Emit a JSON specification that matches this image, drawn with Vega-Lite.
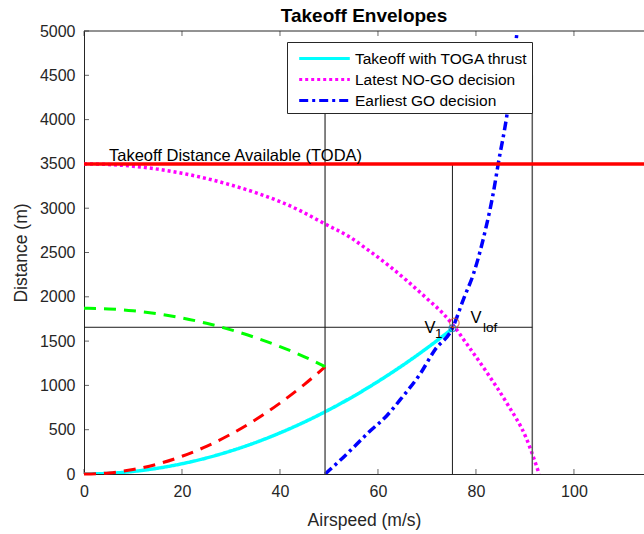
{
  "$schema": "https://vega.github.io/schema/vega-lite/v6.json",
  "autosize": "none",
  "width": 560,
  "height": 443,
  "padding": {"left": 84, "top": 31, "right": 0, "bottom": 60},
  "background": "white",
  "title": {
    "text": "Takeoff Envelopes",
    "font": "Liberation Sans",
    "fontSize": 19,
    "fontWeight": "bold",
    "color": "black",
    "anchor": "middle",
    "baseline": "alphabetic",
    "offset": -18
  },
  "datasets": {
    "speedTicks": [{"v": 0}, {"v": 20}, {"v": 40}, {"v": 60}, {"v": 80}, {"v": 100}],
    "distanceTicks": [{"d": 0}, {"d": 500}, {"d": 1000}, {"d": 1500}, {"d": 2000}, {"d": 2500}, {"d": 3000}, {"d": 3500}, {"d": 4000}, {"d": 4500}, {"d": 5000}]
  },
  "config": {
    "view": {"stroke": null},
    "axis": {
      "domainColor": "#262626",
      "tickColor": "#262626",
      "labelColor": "#262626",
      "titleColor": "#262626",
      "labelFont": "Liberation Sans",
      "titleFont": "Liberation Sans",
      "labelFontSize": 16,
      "titleFontSize": 17.5,
      "titleFontWeight": "normal",
      "grid": false,
      "domainWidth": 1,
      "ticks": false
    }
  },
  "layer": [
    {
      "description": "takeoff envelopes",
      "data": {"values": [
        {"series": "Takeoff with TOGA thrust", "v": 0, "d": 0},
        {"series": "Takeoff with TOGA thrust", "v": 5, "d": 7},
        {"series": "Takeoff with TOGA thrust", "v": 10, "d": 29},
        {"series": "Takeoff with TOGA thrust", "v": 15, "d": 65},
        {"series": "Takeoff with TOGA thrust", "v": 20, "d": 116},
        {"series": "Takeoff with TOGA thrust", "v": 25, "d": 181},
        {"series": "Takeoff with TOGA thrust", "v": 30, "d": 261},
        {"series": "Takeoff with TOGA thrust", "v": 35, "d": 355},
        {"series": "Takeoff with TOGA thrust", "v": 40, "d": 464},
        {"series": "Takeoff with TOGA thrust", "v": 45, "d": 587},
        {"series": "Takeoff with TOGA thrust", "v": 50, "d": 725},
        {"series": "Takeoff with TOGA thrust", "v": 55, "d": 877},
        {"series": "Takeoff with TOGA thrust", "v": 60, "d": 1044},
        {"series": "Takeoff with TOGA thrust", "v": 65, "d": 1225},
        {"series": "Takeoff with TOGA thrust", "v": 70, "d": 1421},
        {"series": "Takeoff with TOGA thrust", "v": 75.2, "d": 1640},
        {"series": "Latest NO-GO decision", "v": 0, "d": 3500},
        {"series": "Latest NO-GO decision", "v": 5, "d": 3493},
        {"series": "Latest NO-GO decision", "v": 10, "d": 3474},
        {"series": "Latest NO-GO decision", "v": 15, "d": 3441},
        {"series": "Latest NO-GO decision", "v": 20, "d": 3395},
        {"series": "Latest NO-GO decision", "v": 25, "d": 3335},
        {"series": "Latest NO-GO decision", "v": 30, "d": 3262},
        {"series": "Latest NO-GO decision", "v": 35, "d": 3176},
        {"series": "Latest NO-GO decision", "v": 40, "d": 3075},
        {"series": "Latest NO-GO decision", "v": 44.1, "d": 2972},
        {"series": "Latest NO-GO decision", "v": 49.2, "d": 2822},
        {"series": "Latest NO-GO decision", "v": 54.3, "d": 2672},
        {"series": "Latest NO-GO decision", "v": 57.7, "d": 2540},
        {"series": "Latest NO-GO decision", "v": 61.8, "d": 2370},
        {"series": "Latest NO-GO decision", "v": 65.9, "d": 2182},
        {"series": "Latest NO-GO decision", "v": 70, "d": 1980},
        {"series": "Latest NO-GO decision", "v": 73.3, "d": 1810},
        {"series": "Latest NO-GO decision", "v": 75.2, "d": 1690},
        {"series": "Latest NO-GO decision", "v": 78.1, "d": 1470},
        {"series": "Latest NO-GO decision", "v": 82.2, "d": 1148},
        {"series": "Latest NO-GO decision", "v": 86.3, "d": 800},
        {"series": "Latest NO-GO decision", "v": 90.3, "d": 400},
        {"series": "Latest NO-GO decision", "v": 92.9, "d": 0},
        {"series": "Earliest GO decision", "v": 49.2, "d": 0},
        {"series": "Earliest GO decision", "v": 52, "d": 140},
        {"series": "Earliest GO decision", "v": 55, "d": 300},
        {"series": "Earliest GO decision", "v": 58, "d": 465},
        {"series": "Earliest GO decision", "v": 61.8, "d": 658},
        {"series": "Earliest GO decision", "v": 65, "d": 870},
        {"series": "Earliest GO decision", "v": 68.6, "d": 1129},
        {"series": "Earliest GO decision", "v": 71.6, "d": 1400},
        {"series": "Earliest GO decision", "v": 75.2, "d": 1645},
        {"series": "Earliest GO decision", "v": 77.5, "d": 1980},
        {"series": "Earliest GO decision", "v": 79.5, "d": 2260},
        {"series": "Earliest GO decision", "v": 82, "d": 2770},
        {"series": "Earliest GO decision", "v": 83.5, "d": 3160},
        {"series": "Earliest GO decision", "v": 84.6, "d": 3518},
        {"series": "Earliest GO decision", "v": 86.3, "d": 4044},
        {"series": "Earliest GO decision", "v": 87.4, "d": 4500},
        {"series": "Earliest GO decision", "v": 88.4, "d": 5000}
      ]},
      "mark": {"type": "line", "strokeWidth": 3.5, "interpolate": "monotone", "clip": true},
      "encoding": {
        "x": {"field": "v", "type": "quantitative", "scale": {"domain": [0, 114.3], "nice": false, "zero": false},
              "axis": {"title": "Airspeed (m/s)", "values": [0, 20, 40, 60, 80, 100], "labelFlush": false, "labelPadding": 9, "titlePadding": 12}},
        "y": {"field": "d", "type": "quantitative", "scale": {"domain": [0, 5000], "nice": false},
              "axis": {"title": "Distance (m)", "format": "d", "values": [0, 500, 1000, 1500, 2000, 2500, 3000, 3500, 4000, 4500, 5000], "labelFlush": false, "labelPadding": 9, "titlePadding": 9}},
        "color": {
          "field": "series", "type": "nominal",
          "scale": {"domain": ["Takeoff with TOGA thrust", "Latest NO-GO decision", "Earliest GO decision"],
                    "range": ["#00FFFF", "#FF00FF", "#0000FF"]},
          "legend": {
            "title": null,
            "orient": "none",
            "legendX": 203,
            "legendY": 11,
            "fillColor": "white",
            "strokeColor": "#262626",
            "padding": 4,
            "rowPadding": 0,
            "symbolType": "M-2.3,0H2.3",
            "symbolSize": 484,
            "symbolOffset": 21,
            "symbolStrokeWidth": 3,
            "labelFont": "Liberation Sans",
            "labelFontSize": 15.5,
            "labelColor": "black",
            "labelOffset": 18,
            "labelLimit": 0
          }
        },
        "strokeDash": {
          "field": "series", "type": "nominal",
          "scale": {"domain": ["Takeoff with TOGA thrust", "Latest NO-GO decision", "Earliest GO decision"],
                    "range": [[1, 0], [3, 3], [9, 4, 3, 4]]},
          "legend": null
        }
      }
    },
    {
      "description": "inward tick marks along the bottom frame",
      "data": {"name": "speedTicks"},
      "mark": {"type": "tick", "orient": "vertical", "color": "#262626", "size": 5, "thickness": 1, "yOffset": -2.5},
      "encoding": {
        "x": {"field": "v", "type": "quantitative"},
        "y": {"datum": 0, "type": "quantitative"}
      }
    },
    {
      "description": "inward tick marks along the top frame",
      "data": {"name": "speedTicks"},
      "mark": {"type": "tick", "orient": "vertical", "color": "#262626", "size": 5, "thickness": 1, "yOffset": 2.5},
      "encoding": {
        "x": {"field": "v", "type": "quantitative"},
        "y": {"datum": 5000, "type": "quantitative"}
      }
    },
    {
      "description": "inward tick marks along the left frame",
      "data": {"name": "distanceTicks"},
      "mark": {"type": "tick", "orient": "horizontal", "color": "#262626", "size": 5, "thickness": 1, "xOffset": 2.5},
      "encoding": {
        "x": {"datum": 0, "type": "quantitative"},
        "y": {"field": "d", "type": "quantitative"}
      }
    },
    {
      "description": "vertical guides at the engine-failure speed and at the stop speed",
      "data": {"values": [
        {"v": 49.2, "d0": 0, "d1": 4500},
        {"v": 91.5, "d0": 0, "d1": 4500}
      ]},
      "mark": {"type": "rule", "color": "#5a5a5a", "strokeWidth": 1.5},
      "encoding": {
        "x": {"field": "v", "type": "quantitative"},
        "y": {"field": "d0", "type": "quantitative"},
        "y2": {"field": "d1"}
      }
    },
    {
      "description": "upper frame of the plot box",
      "data": {"values": [{"x1": 0, "x2": 114.3, "y1": 5000}]},
      "mark": {"type": "rule", "color": "#262626", "strokeWidth": 1},
      "encoding": {
        "x": {"field": "x1", "type": "quantitative"},
        "x2": {"field": "x2"},
        "y": {"field": "y1", "type": "quantitative"}
      }
    },
    {
      "description": "V1 guide lines",
      "data": {"values": [
        {"x1": 75.2, "x2": 75.2, "y1": 0, "y2": 3500},
        {"x1": 0, "x2": 91.5, "y1": 1656, "y2": 1656}
      ]},
      "mark": {"type": "rule", "color": "#1a1a1a", "strokeWidth": 1},
      "encoding": {
        "x": {"field": "x1", "type": "quantitative"},
        "x2": {"field": "x2"},
        "y": {"field": "y1", "type": "quantitative"},
        "y2": {"field": "y2"}
      }
    },
    {
      "description": "runway length (TODA)",
      "data": {"values": [{"x1": 0, "x2": 114.3, "y1": 3500}]},
      "mark": {"type": "rule", "color": "#FF0000", "strokeWidth": 3.5},
      "encoding": {
        "x": {"field": "x1", "type": "quantitative"},
        "x2": {"field": "x2"},
        "y": {"field": "y1", "type": "quantitative"}
      }
    },
    {
      "description": "acceleration to engine failure speed",
      "data": {"values": [
        {"v": 0, "d": 0},
        {"v": 5, "d": 12},
        {"v": 10, "d": 50},
        {"v": 15, "d": 112},
        {"v": 20, "d": 200},
        {"v": 25, "d": 312},
        {"v": 30, "d": 450},
        {"v": 35, "d": 612},
        {"v": 40, "d": 800},
        {"v": 45, "d": 1012},
        {"v": 49.2, "d": 1210}
      ]},
      "mark": {"type": "line", "color": "#FF0000", "strokeWidth": 3, "strokeDash": [12, 8], "interpolate": "monotone"},
      "encoding": {
        "x": {"field": "v", "type": "quantitative"},
        "y": {"field": "d", "type": "quantitative"}
      }
    },
    {
      "description": "braking distance after engine failure",
      "data": {"values": [
        {"v": 0, "d": 1870},
        {"v": 5, "d": 1863},
        {"v": 10, "d": 1843},
        {"v": 15, "d": 1809},
        {"v": 20, "d": 1762},
        {"v": 25, "d": 1701},
        {"v": 30, "d": 1627},
        {"v": 35, "d": 1539},
        {"v": 40, "d": 1438},
        {"v": 45, "d": 1323},
        {"v": 49.2, "d": 1212}
      ]},
      "mark": {"type": "line", "color": "#00FF00", "strokeWidth": 3, "strokeDash": [12, 8], "interpolate": "monotone"},
      "encoding": {
        "x": {"field": "v", "type": "quantitative"},
        "y": {"field": "d", "type": "quantitative"}
      }
    },
    {
      "description": "lift-off marker",
      "data": {"values": [{"v": 75.6, "d": 1705}]},
      "mark": {"type": "point", "shape": "circle", "filled": false, "color": "#D95319", "size": 90, "strokeWidth": 1.2},
      "encoding": {
        "x": {"field": "v", "type": "quantitative"},
        "y": {"field": "d", "type": "quantitative"}
      }
    },
    {
      "description": "decision speed marker",
      "data": {"values": [{"v": 75.2, "d": 1645}]},
      "mark": {"type": "point", "shape": "circle", "filled": false, "color": "#0072BD", "size": 45, "strokeWidth": 1.2},
      "encoding": {
        "x": {"field": "v", "type": "quantitative"},
        "y": {"field": "d", "type": "quantitative"}
      }
    },
    {
      "data": {"values": [
        {"v": 5.1, "d": 3537, "label": "Takeoff Distance Available (TODA)"}
      ]},
      "mark": {"type": "text", "align": "left", "baseline": "alphabetic", "font": "Liberation Sans", "fontSize": 16.5, "color": "black"},
      "encoding": {
        "x": {"field": "v", "type": "quantitative"},
        "y": {"field": "d", "type": "quantitative"},
        "text": {"field": "label"}
      }
    },
    {
      "data": {"values": [
        {"v": 70.6, "d": 1597, "label": "V"},
        {"v": 80.0, "d": 1703, "label": "V"}
      ]},
      "mark": {"type": "text", "align": "center", "baseline": "alphabetic", "font": "Liberation Sans", "fontSize": 16.5, "color": "black"},
      "encoding": {
        "x": {"field": "v", "type": "quantitative"},
        "y": {"field": "d", "type": "quantitative"},
        "text": {"field": "label"}
      }
    },
    {
      "data": {"values": [
        {"v": 72.4, "d": 1534, "label": "1"},
        {"v": 82.9, "d": 1608, "label": "lof"}
      ]},
      "mark": {"type": "text", "align": "center", "baseline": "alphabetic", "font": "Liberation Sans", "fontSize": 13.5, "color": "black"},
      "encoding": {
        "x": {"field": "v", "type": "quantitative"},
        "y": {"field": "d", "type": "quantitative"},
        "text": {"field": "label"}
      }
    }
  ]
}
